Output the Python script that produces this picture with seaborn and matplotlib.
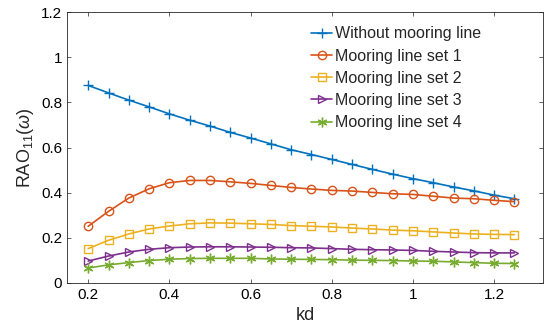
import numpy as np
import pandas as pd
import matplotlib
matplotlib.use("Agg")
import matplotlib.pyplot as plt
import seaborn as sns

# values
kd = [0.2, 0.25, 0.3, 0.35, 0.4, 0.45, 0.5, 0.55, 0.6, 0.65, 0.7,
      0.75, 0.8, 0.85, 0.9, 0.95, 1.0, 1.05, 1.1, 1.15, 1.2, 1.25]
no_mooring = [0.875, 0.842, 0.810, 0.780, 0.749, 0.721, 0.695, 0.667, 0.642, 0.616, 0.590,
              0.569, 0.547, 0.525, 0.503, 0.482, 0.462, 0.444, 0.425, 0.408, 0.389, 0.373]
set1 = [0.251, 0.317, 0.376, 0.417, 0.444, 0.454, 0.454, 0.448, 0.441, 0.432, 0.423,
        0.416, 0.410, 0.407, 0.401, 0.395, 0.392, 0.384, 0.376, 0.373, 0.366, 0.360]
set2 = [0.152, 0.189, 0.217, 0.239, 0.252, 0.262, 0.266, 0.265, 0.262, 0.259, 0.254,
        0.251, 0.248, 0.243, 0.239, 0.234, 0.231, 0.226, 0.221, 0.217, 0.215, 0.214]
set3 = [0.097, 0.119, 0.137, 0.149, 0.156, 0.159, 0.160, 0.160, 0.159, 0.158, 0.156,
        0.155, 0.152, 0.149, 0.147, 0.146, 0.144, 0.140, 0.137, 0.134, 0.133, 0.133]
set4 = [0.066, 0.080, 0.090, 0.099, 0.105, 0.108, 0.109, 0.109, 0.109, 0.106, 0.105,
        0.104, 0.103, 0.101, 0.100, 0.099, 0.097, 0.096, 0.093, 0.090, 0.087, 0.086]
labels = ["Without mooring line", "Mooring line set 1", "Mooring line set 2",
          "Mooring line set 3", "Mooring line set 4"]

sns.set_style("ticks")
plt.rcParams["font.family"] = ["Liberation Sans", "DejaVu Sans"]
plt.rcParams["mathtext.fontset"] = "custom"
plt.rcParams["mathtext.rm"] = "Liberation Sans"
plt.rcParams["mathtext.it"] = "Liberation Sans:italic"

colors = ["#0072BD", "#D95319", "#EDB120", "#7E2F8E", "#77AC30"]
markers = ["+", "o", "s", ">", (6, 2, 0)]

fig = plt.figure(figsize=(5.5, 3.36), dpi=100)
ax = fig.add_axes([0.122, 0.158, 0.865, 0.806])

for vals, lab, c, m in zip([no_mooring, set1, set2, set3, set4], labels, colors, markers):
    open_marker = m in ["o", "s", ">"]
    sns.lineplot(x=kd, y=vals, ax=ax, color=c, label=lab, marker=m, lw=1.2,
                 markersize=6 if open_marker else 7,
                 markerfacecolor="none" if open_marker else c,
                 markeredgecolor=c, markeredgewidth=1.0)

ax.set_xlim(0.148, 1.32)
ax.set_ylim(0, 1.2)
ax.set_xticks([0.2, 0.4, 0.6, 0.8, 1.0, 1.2])
ax.set_xticklabels(["0.2", "0.4", "0.6", "0.8", "1", "1.2"])
ax.set_yticks([0, 0.2, 0.4, 0.6, 0.8, 1.0, 1.2])
ax.set_yticklabels(["0", "0.2", "0.4", "0.6", "0.8", "1", "1.2"])
ax.tick_params(direction="in", length=3, width=0.5, labelsize=11,
               top=True, right=True, colors="#262626", labelcolor="black")
for s in ax.spines.values():
    s.set_linewidth(0.6)
    s.set_color("#262626")
    s.set_visible(True)
ax.set_xlabel("kd", fontsize=13)
ax.set_ylabel(r"RAO$_{11}(\omega)$", fontsize=13)

ax.legend(loc="upper left", bbox_to_anchor=(0.483, 1.0), frameon=False,
          fontsize=11.5, handlelength=1.3, handletextpad=0.2, labelspacing=0.45)

fig.savefig("out.png", dpi=100)
